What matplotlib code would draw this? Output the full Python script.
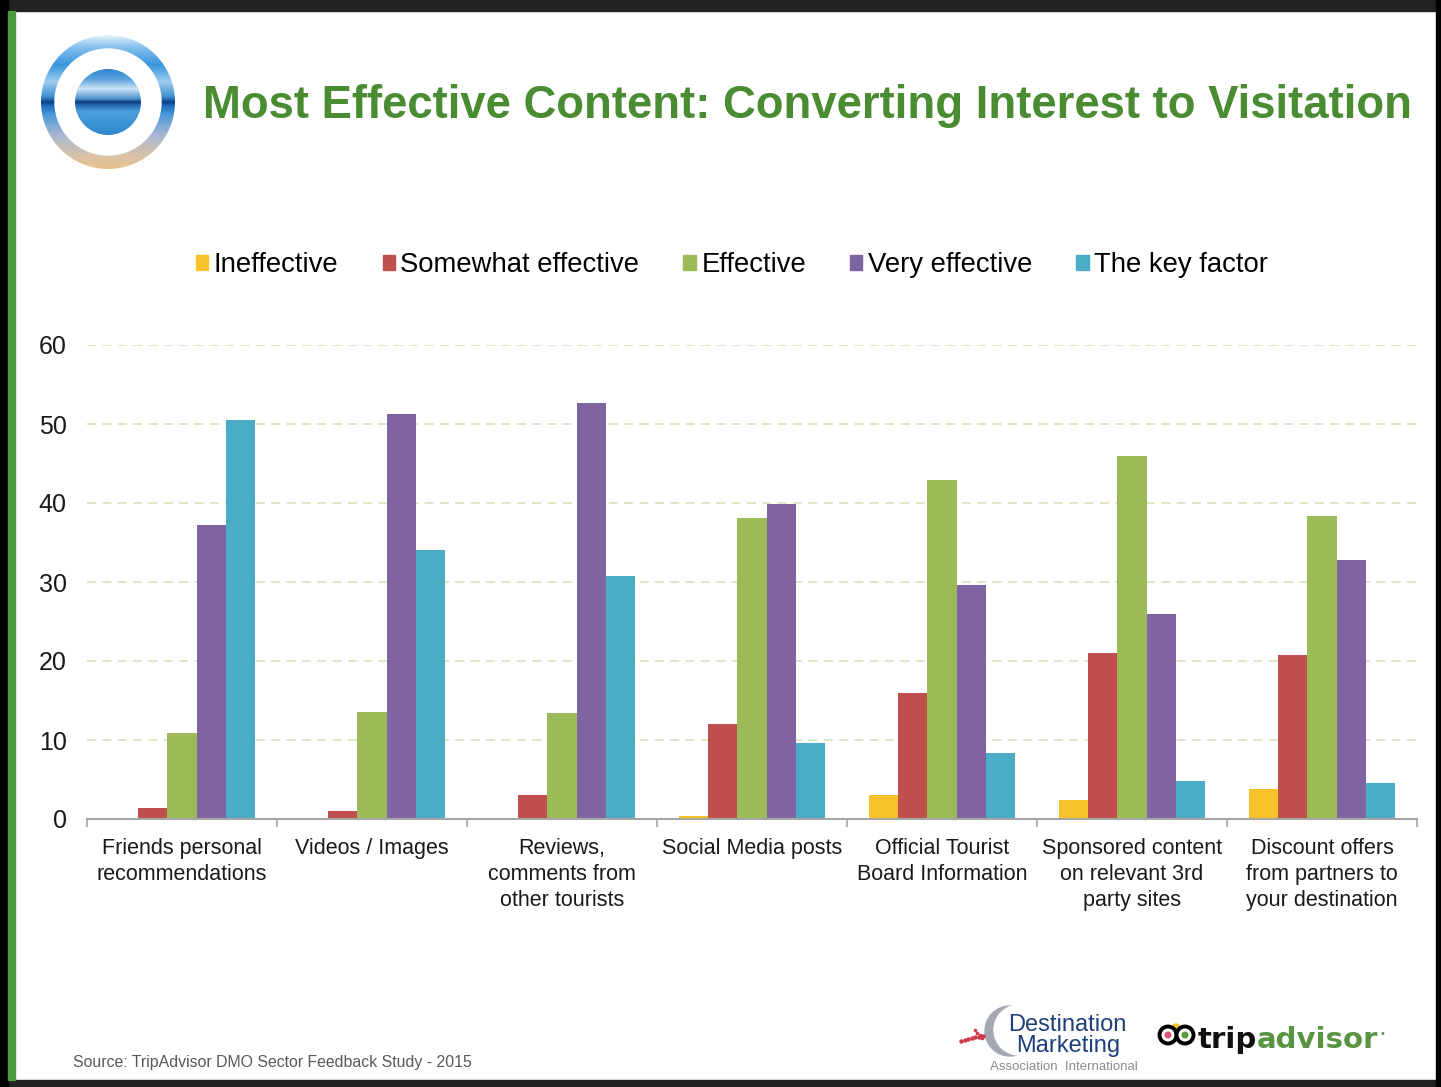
import numpy as np
import matplotlib
matplotlib.use("Agg")
import matplotlib.pyplot as plt
from matplotlib.patches import Rectangle, Circle
from matplotlib.colors import LinearSegmentedColormap

plt.rcParams['font.family'] = ['Liberation Sans', 'DejaVu Sans']

# ------------------------------------------------------------------
# Data
# ------------------------------------------------------------------
categories = [
    "Friends personal\nrecommendations",
    "Videos / Images",
    "Reviews,\ncomments from\nother tourists",
    "Social Media posts",
    "Official Tourist\nBoard Information",
    "Sponsored content\non relevant 3rd\nparty sites",
    "Discount offers\nfrom partners to\nyour destination",
]
series_names = ["Ineffective", "Somewhat effective", "Effective",
                "Very effective", "The key factor"]
ineffective        = [0.0, 0.0, 0.0, 0.4, 3.1, 2.4, 3.8]
somewhat_effective = [1.4, 1.0, 3.0, 12.0, 16.0, 21.0, 20.7]
effective          = [10.9, 13.6, 13.4, 38.1, 42.9, 45.9, 38.3]
very_effective     = [37.2, 51.3, 52.7, 39.9, 29.6, 25.9, 32.8]
key_factor         = [50.5, 34.1, 30.8, 9.6, 8.4, 4.85, 4.5]
y_ticks = [0, 10, 20, 30, 40, 50, 60]

colors = ["#F8C22B", "#C0504D", "#9BBB59", "#8064A2", "#4BACC6"]
TITLE_GREEN = "#4A8C32"

W, H = 1441, 1087
fig = plt.figure(figsize=(W / 100, H / 100), dpi=100)
fig.patch.set_facecolor("white")


def px_box(x0, y0, x1, y1):
    """pixel box (top-left origin) -> figure fraction rect"""
    return [x0 / W, 1 - y1 / H, (x1 - x0) / W, (y1 - y0) / H]


# ------------------------------------------------------------------
# Main bar chart
# ------------------------------------------------------------------
ax = fig.add_axes(px_box(87, 345, 1417, 819))
all_series = [ineffective, somewhat_effective, effective, very_effective, key_factor]
n = len(all_series)
bw = 0.154
x = np.arange(len(categories))
for i, (vals, col, name) in enumerate(zip(all_series, colors, series_names)):
    ax.bar(x + (i - (n - 1) / 2) * bw, vals, width=bw, color=col,
           linewidth=0, label=name, zorder=3)

ax.set_xlim(-0.5, len(categories) - 0.5)
ax.set_ylim(0, 60)
ax.set_yticks(y_ticks)
ax.set_yticklabels([str(t) for t in y_ticks], fontsize=18, color="#1a1a1a")
ax.tick_params(axis="y", length=0, pad=14.5)
ax.set_xticks(x)
ax.set_xticklabels(categories, fontsize=15.5, color="#1a1a1a", linespacing=1.3)
ax.tick_params(axis="x", which="major", length=0, pad=14)
ax.set_xticks(np.arange(-0.5, len(categories)), minor=True)
ax.tick_params(axis="x", which="minor", length=6, width=1.2, color="#a6a6a6")
ax.grid(axis="y", color="#d8e6c2", linestyle=(0, (5, 3.5)), linewidth=1.3, zorder=0)
for s in ["top", "right", "left"]:
    ax.spines[s].set_visible(False)
ax.spines["bottom"].set_color("#a6a6a6")
ax.spines["bottom"].set_linewidth(1.5)
ax.spines["bottom"].set_zorder(4)
ax.set_facecolor("none")

# legend across the top
handles = [Rectangle((0, 0), 1, 1, color=c) for c in colors]
fig.legend(handles, series_names, loc="center", ncol=5,
           bbox_to_anchor=(732 / W, 1 - 265 / H), frameon=False,
           fontsize=19.8, handlelength=0.45, handleheight=0.45,
           handletextpad=0.2, columnspacing=1.6)

# ------------------------------------------------------------------
# Title and logo
# ------------------------------------------------------------------
fig.text(203 / W, 1 - 118 / H,
         "Most Effective Content: Converting Interest to Visitation",
         fontsize=32.8, fontweight="bold", color=TITLE_GREEN,
         va="baseline", ha="left")

lax = fig.add_axes(px_box(38, 32, 178, 172))
lax.set_xlim(-70, 70)
lax.set_ylim(-70, 70)
lax.axis("off")
ring_cmap = LinearSegmentedColormap.from_list(
    "ring", [(0.0, "#eac38a"), (0.1, "#d8c2a8"), (0.25, "#a9b8d4"), (0.4, "#4f9ad8"),
             (0.47, "#1f6fc0"), (0.5, "#0d3f86"), (0.54, "#3f8fcf"), (0.65, "#9fcdef"),
             (0.78, "#3a95dd"), (0.92, "#8cc4ee"), (1.0, "#e6f4fd")])
sea_cmap = LinearSegmentedColormap.from_list(
    "sea", [(0.0, "#2f86cc"), (0.35, "#4aa0dc"), (0.47, "#1d5fa8"), (0.5, "#0b3576"),
            (0.55, "#4e92cf"), (0.7, "#c9e2f5"), (0.85, "#5aa2dc"), (1.0, "#2f84d2")])
grad = np.linspace(0, 1, 256).reshape(-1, 1)
outer = lax.imshow(grad, cmap=ring_cmap, origin="lower", extent=(-67, 67, -67, 67),
                   aspect="auto", interpolation="bilinear")
outer.set_clip_path(Circle((0, 0), 67, transform=lax.transData))
lax.add_patch(Circle((0, 0), 53, color="white", zorder=3))
inner = lax.imshow(grad, cmap=sea_cmap, origin="lower", extent=(-33, 33, -33, 33),
                   aspect="auto", interpolation="bilinear", zorder=4)
inner.set_clip_path(Circle((0, 0), 33, transform=lax.transData))

# ------------------------------------------------------------------
# Footer: source and partner logos
# ------------------------------------------------------------------
fig.text(73 / W, 1 - 1062 / H, "Source: TripAdvisor DMO Sector Feedback Study - 2015",
         fontsize=11.4, color="#595959", va="center", ha="left")

bax = fig.add_axes(px_box(950, 1000, 1420, 1080))
bax.set_xlim(950, 1420)
bax.set_ylim(1080, 1000)
bax.axis("off")
# DMAI crescent + red dotted rays
bax.add_patch(Circle((1010, 1031), 25, color="#a3a8b2", zorder=1))
bax.add_patch(Circle((1019, 1030), 25, color="white", zorder=2))
for k in range(7):
    bax.plot(961 + k * 3.6, 1041 - k * 0.9, "o", color="#d03a4f", markersize=2.2, zorder=3)
for k in range(4):
    bax.plot(975 + k * 2.5, 1030 + k * 2.5, "o", color="#d03a4f", markersize=1.6, zorder=3)
bax.text(1067, 1025, "Destination", fontsize=17, color="#1f3f7a",
         ha="center", va="center", zorder=5)
bax.text(1068, 1046, "Marketing", fontsize=17, color="#1f3f7a",
         ha="center", va="center", zorder=5)
bax.text(1064, 1067, "Association  International", fontsize=9.5, color="#8c8c8c",
         ha="center", va="center", zorder=5)

# tripadvisor owl + wordmark
bax.add_patch(Circle((1176, 1028), 4, color="#f2c12e", zorder=3))
for cx, dot in [(1168, "#d9536b"), (1185, "#5a9a3a")]:
    bax.add_patch(Circle((cx, 1035), 8.5, facecolor="white", edgecolor="black",
                         linewidth=2.8, zorder=4))
    bax.add_patch(Circle((cx, 1035), 2.8, color=dot, zorder=5))
trip = bax.text(1198, 1048, "trip", fontsize=21, fontweight="bold",
                family="DejaVu Sans", color="#111111", ha="left", va="baseline")
adv = bax.annotate("advisor", xy=(1, 0), xycoords=trip, fontsize=21,
                   fontweight="bold", family="DejaVu Sans", color="#589442",
                   ha="left", va="bottom")
bax.annotate("\u2022", xy=(1, 0.55), xycoords=adv, xytext=(1, 0),
             textcoords="offset points", fontsize=8, color="#589442",
             ha="left", va="bottom")

# ------------------------------------------------------------------
# Slide frame (dark borders + green left stripe)
# ------------------------------------------------------------------
frame = [
    (0, 0, W, 11, "#222222"),
    (0, 1080, W, H, "#222222"),
    (0, 0, 8, H, "#000000"),
    (8, 11, 15, 1080, "#4f9a3e"),
    (1436, 0, W, H, "#000000"),
]
for x0, y0, x1, y1, c in frame:
    fig.patches.append(Rectangle((x0 / W, 1 - y1 / H), (x1 - x0) / W, (y1 - y0) / H,
                                 transform=fig.transFigure, color=c, zorder=10))

fig.savefig("out.png", dpi=100)
